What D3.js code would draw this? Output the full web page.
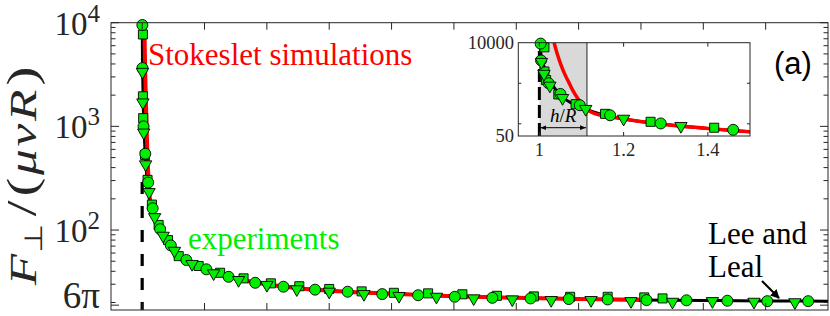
<!DOCTYPE html>
<html><head><meta charset="utf-8">
<script src="https://cdn.jsdelivr.net/npm/d3@7"></script>
<style>body{margin:0;background:#fff} svg{display:block}</style>
</head><body><svg id="c" width="830" height="316"></svg>
<script>
// ---- data (h/R, F/(mu v R)) ----
const circles = [[1.003,9500],[1.004,3650],[1.022,1000],[1.05,545],[1.096,287],[1.168,162],[1.288,102],[1.46,71],
  [1.709,51.4],[2.03,41.8],[2.386,35.4],[2.813,31.0],[3.266,28.4],[3.773,26.6],[4.296,25.4],[4.85,24.1],[5.426,23.5],
  [6.013,22.7],[6.616,22.2],[7.229,21.9],[7.842,21.6],[8.466,21.4],[9.09,21.1],[9.73,21.0],[10.386,20.8],[11.026,20.6],[11.682,20.6]];
const squares = [[1.012,7700],[1.012,1950],[1.016,1200],[1.045,530],[1.086,305],[1.156,176],[1.264,112],[1.415,80],
  [1.586,56],[1.906,45],[2.25,38.7],[2.626,34.2],[3.064,30.6],[3.52,28.7],[4.0,27.0],[4.52,25.6],[5.037,24.8],[5.586,24.5],
  [6.136,24.0],[6.69,23.2],[7.282,22.9],[7.864,22.7],[8.466,22.7],[9.053,22.4],[9.346,21.9]];
const triangles = [[1.005,3350],[1.011,1700],[1.025,870],[1.055,430],[1.11,232],[1.2,133],[1.336,88],[1.517,63],
  [1.8,47],[2.146,38.2],[2.546,32.9],[3.0,29.5],[3.48,26.8],[4.0,25.4],[4.557,24.1],[5.12,23.1],[5.72,22.7],[6.317,21.9],
  [6.936,21.4],[7.56,21.1],[8.2,21.1],[8.84,20.6],[9.506,20.3],[10.146,20.6],[10.813,20.3],[11.469,20.1]];
const stokeslet = [[1.035,10000],[1.042,5500],[1.05,3100],[1.06,1700],[1.07,1050],[1.08,650],[1.09,440],[1.1,320],
  [1.113,227],[1.13,180],[1.168,150],[1.2,132],[1.286,99],[1.4,77],[1.5,64],[1.7,52],[2.0,42.5],[2.5,34],[3,30],
  [3.5,27.5],[4,26],[5,24.3],[6,23],[7,22.2],[8,21.6],[9,21.2]];
const leeLeal = [[1.001,10000],[1.004,5000],[1.011,2560],[1.02,1400],[1.031,906],[1.045,580],[1.058,430],[1.075,330],
  [1.09,275],[1.113,222],[1.15,168],[1.2,132],[1.3,96],[1.5,64],[2,42.5],[3,30],[4,26],[5,24.3],[6,23],[7,22.2],
  [8,21.6],[9,21.1],[10,20.9],[11,20.7],[12,20.6]];
const xTicks = [1,2,3,4,5,6,7,8,9,10,11];
const yTickValues = [6*Math.PI, 100, 1000, 10000];
const yTickLabels = [["6π",""],["10","2"],["10","3"],["10","4"]];
const insetXTicks = [1, 1.2, 1.4];
const insetXTickLabels = ["1","1.2","1.4"];
const insetYTicks = [50, 10000];
const insetYTickLabels = ["50","10000"];
const insetGap = [1, 1.113];

const svg = d3.select("#c");
const AX = "#262626", GREEN = "#00ee00", RED = "#ff0000";
const SERIF = "Liberation Serif";

// ---- main axes ----
const L=111, R=828, T=22.7, B=310;
const x = d3.scaleLinear([0.5,12],[L,R]);
const y = d3.scaleLog([16.93,1e4],[B,T]);

svg.append("clipPath").attr("id","cm").append("rect").attr("x",L).attr("y",T).attr("width",R-L).attr("height",B-T);

const line = d3.line().x(d=>x(d[0])).y(d=>y(d[1])).curve(d3.curveMonotoneX);
const gMain = svg.append("g");
gMain.append("path").datum(leeLeal).attr("d",line).attr("fill","none").attr("stroke","#000").attr("stroke-width",3).attr("clip-path","url(#cm)");
gMain.append("path").datum(stokeslet).attr("d",line).attr("fill","none").attr("stroke",RED).attr("stroke-width",4).attr("clip-path","url(#cm)");
gMain.append("line").attr("x1",x(1)).attr("x2",x(1)).attr("y1",B).attr("y2",y(300)).attr("stroke","#000").attr("stroke-width",3.2).attr("stroke-dasharray","12,12").attr("stroke-dashoffset",4);

function markers(g, xs, ys, filt){
  const sym = (type,size)=>d3.symbol().type(type).size(size)();
  const add=(data,path,rot)=>g.selectAll(null).data(data.filter(filt)).join("path").attr("d",path)
     .attr("transform",d=>`translate(${xs(d[0])},${ys(d[1])})`+(rot?" rotate(180)":""))
     .attr("fill",GREEN).attr("stroke","#000").attr("stroke-width",0.9);
  add(squares, sym(d3.symbolSquare,82), false);
  add(circles, sym(d3.symbolCircle,95), false);
  add(triangles, sym(d3.symbolTriangle,66), true);
}
markers(gMain, x, y, d=>true);

// axis box
const gAx = svg.append("g").attr("stroke",AX).attr("fill","none").attr("stroke-width",1);
gAx.append("rect").attr("x",L).attr("y",T).attr("width",R-L).attr("height",B-T);
xTicks.forEach(v=>{
  gAx.append("line").attr("x1",x(v)).attr("x2",x(v)).attr("y1",B).attr("y2",B-7);
  gAx.append("line").attr("x1",x(v)).attr("x2",x(v)).attr("y1",T).attr("y2",T+7);
});
const minor=[];
[10,100,1000].forEach(d=>{for(let k=2;k<=9;k++){const v=k*d; if(v>=17 && v<1e4) minor.push(v);}});
minor.forEach(v=>{
  gAx.append("line").attr("x1",L).attr("x2",L+4.5).attr("y1",y(v)).attr("y2",y(v));
  gAx.append("line").attr("x1",R).attr("x2",R-4.5).attr("y1",y(v)).attr("y2",y(v));
});
yTickValues.forEach(v=>{
  gAx.append("line").attr("x1",L).attr("x2",L+8).attr("y1",y(v)).attr("y2",y(v));
  gAx.append("line").attr("x1",R).attr("x2",R-8).attr("y1",y(v)).attr("y2",y(v));
});
// y tick labels
yTickValues.forEach((v,i)=>{
  const [base,exp]=yTickLabels[i];
  const t=svg.append("text").attr("x",100).attr("y",exp? y(v)+12 : 308).attr("text-anchor","end")
    .attr("font-family",SERIF).attr("font-size",exp?33:37).attr("fill",AX);
  t.append("tspan").text(base);
  if(exp) t.append("tspan").attr("dy",-13).attr("font-size",25).text(exp);
});
// y label
const yl=svg.append("text").attr("transform","translate(36,176) rotate(-90) scale(1.35,1)").attr("text-anchor","middle")
  .attr("font-family",SERIF).attr("font-size",38).attr("fill",AX);
yl.append("tspan").attr("font-style","italic").text("F");
yl.append("tspan").attr("dy",6).attr("dx",1).attr("font-size",25).text("⊥");
yl.append("tspan").attr("dy",-6).attr("dx",5).attr("font-size",42).text("/");
yl.append("tspan").attr("dx",3).attr("font-size",42).text("(");
yl.append("tspan").attr("dx",2).attr("font-style","italic").text("μ");
yl.append("tspan").attr("dx",2).attr("font-style","italic").text("v");
yl.append("tspan").attr("dx",2).attr("font-style","italic").text("R");
yl.append("tspan").attr("dx",3).attr("font-size",42).text(")");

// annotations
svg.append("text").attr("x",148).attr("y",65).attr("font-family",SERIF).attr("font-size",31).attr("fill",RED).text("Stokeslet simulations");
svg.append("text").attr("x",188).attr("y",249).attr("font-family",SERIF).attr("font-size",31).attr("fill",GREEN).text("experiments");
svg.append("text").attr("x",708).attr("y",244).attr("font-family",SERIF).attr("font-size",31).attr("fill","#000").text("Lee and");
svg.append("text").attr("x",708).attr("y",277).attr("font-family",SERIF).attr("font-size",31).attr("fill","#000").text("Leal");
svg.append("defs").html(`<marker id="ah" viewBox="0 0 10 10" refX="9" refY="5" markerWidth="9" markerHeight="9" markerUnits="userSpaceOnUse" orient="auto-start-reverse"><path d="M0,0 L10,5 L0,10 z" fill="#000"/></marker>
<marker id="ah2" viewBox="0 0 10 10" refX="10" refY="5" markerWidth="6" markerHeight="6" markerUnits="userSpaceOnUse" orient="auto-start-reverse"><path d="M0,1 L10,5 L0,9 z" fill="#000"/></marker>`);
svg.append("line").attr("x1",762).attr("y1",281).attr("x2",779).attr("y2",298).attr("stroke","#000").attr("stroke-width",2.2).attr("marker-end","url(#ah)");
svg.append("text").attr("x",774).attr("y",74).attr("font-family","Liberation Sans").attr("font-size",31).attr("fill","#000").text("(a)");

// ---- inset ----
const iL=518.3, iR=750, iT=42.7, iB=136;
const ix = d3.scaleLinear([0.95,1.5],[iL,iR]);
const iy = d3.scaleLog([50,1e4],[iB,iT]);
const gI = svg.append("g");
gI.append("clipPath").attr("id","ci").append("rect").attr("x",iL).attr("y",iT).attr("width",iR-iL).attr("height",iB-iT);
gI.append("rect").attr("x",iL-40).attr("y",iT-8).attr("width",iR-iL+48).attr("height",iB-iT+28).attr("fill","#fff");
gI.append("rect").attr("x",ix(insetGap[0])).attr("y",iT).attr("width",ix(insetGap[1])-ix(insetGap[0])).attr("height",iB-iT).attr("fill","#d9d9d9");
gI.append("line").attr("x1",ix(insetGap[1])).attr("x2",ix(insetGap[1])).attr("y1",iT).attr("y2",iB).attr("stroke",AX).attr("stroke-width",1);
const iline = d3.line().x(d=>ix(d[0])).y(d=>iy(d[1])).curve(d3.curveMonotoneX);
gI.append("path").datum(leeLeal.filter(d=>d[0]<=1.6)).attr("d",iline).attr("fill","none").attr("stroke","#000").attr("stroke-width",3).attr("clip-path","url(#ci)");
gI.append("path").datum(stokeslet.filter(d=>d[0]<=1.7)).attr("d",iline).attr("fill","none").attr("stroke",RED).attr("stroke-width",3.5).attr("clip-path","url(#ci)");
gI.append("line").attr("x1",ix(1)).attr("x2",ix(1)).attr("y1",iB).attr("y2",iT).attr("stroke","#000").attr("stroke-width",3).attr("stroke-dasharray","13,5");
markers(gI.append("g"), ix, iy, d=>d[0]<=1.5);
// h/R arrow
gI.append("line").attr("x1",ix(insetGap[0])+1).attr("x2",ix(insetGap[1])-1).attr("y1",127.7).attr("y2",127.7)
  .attr("stroke","#000").attr("stroke-width",1).attr("marker-start","url(#ah2)").attr("marker-end","url(#ah2)");
const hr=gI.append("text").attr("x",(ix(insetGap[0])+ix(insetGap[1]))/2).attr("y",122).attr("text-anchor","middle")
  .attr("font-family",SERIF).attr("font-size",19).attr("fill","#000");
hr.append("tspan").attr("font-style","italic").text("h");
hr.append("tspan").text("/");
hr.append("tspan").attr("font-style","italic").text("R");
// inset box & ticks
const gIa = gI.append("g").attr("stroke",AX).attr("fill","none").attr("stroke-width",1);
gIa.append("rect").attr("x",iL).attr("y",iT).attr("width",iR-iL).attr("height",iB-iT);
insetXTicks.forEach(v=>{
  gIa.append("line").attr("x1",ix(v)).attr("x2",ix(v)).attr("y1",iB).attr("y2",iB-4);
  gIa.append("line").attr("x1",ix(v)).attr("x2",ix(v)).attr("y1",iT).attr("y2",iT+4);
});
[100,1000].forEach(v=>{
  gIa.append("line").attr("x1",iL).attr("x2",iL+3).attr("y1",iy(v)).attr("y2",iy(v));
  gIa.append("line").attr("x1",iR).attr("x2",iR-3).attr("y1",iy(v)).attr("y2",iy(v));
});
insetXTicks.forEach((v,i)=>svg.append("text").attr("x",ix(v)).attr("y",156).attr("text-anchor","middle")
  .attr("font-family",SERIF).attr("font-size",18.5).attr("fill",AX).text(insetXTickLabels[i]));
insetYTicks.forEach((v,i)=>svg.append("text").attr("x",514).attr("y",iy(v)+6).attr("text-anchor","end")
  .attr("font-family",SERIF).attr("font-size",18.5).attr("fill",AX).text(insetYTickLabels[i]));
</script></body></html>
